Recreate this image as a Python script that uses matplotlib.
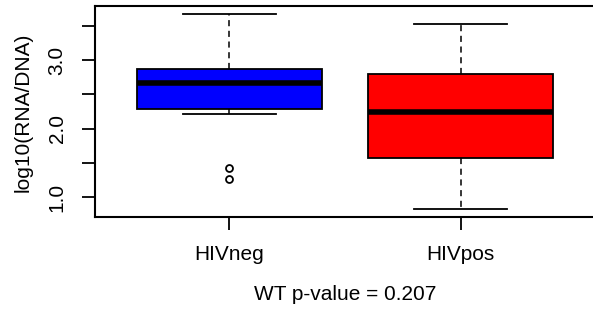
import matplotlib
matplotlib.use("Agg")
import matplotlib.pyplot as plt

plt.rcParams['font.family'] = ['Liberation Sans', 'DejaVu Sans']

groups = ["HIVneg", "HIVpos"]
q1 = [2.29, 1.58]
medians = [2.67, 2.25]
q3 = [2.87, 2.80]
whislo = [2.21, 0.83]
whishi = [3.67, 3.53]
fliers = [[1.42, 1.26], []]
colors = ["#0000FF", "#FF0000"]
xlabel = "WT p-value = 0.207"
ylabel = "log10(RNA/DNA)"

fig = plt.figure(figsize=(5.93, 3.11), dpi=100)
ax = fig.add_axes([95/593, 1-216.7/311, 500/593, (216.7-6)/311])

stats = []
for i, g in enumerate(groups):
    stats.append(dict(label=g, med=medians[i], q1=q1[i], q3=q3[i],
                      whislo=whislo[i], whishi=whishi[i], fliers=fliers[i]))

bp = ax.bxp(stats, positions=[1, 2], widths=0.8, patch_artist=True,
            boxprops=dict(linewidth=1.3, edgecolor='black'),
            medianprops=dict(color='black', linewidth=4, solid_capstyle='butt'),
            whiskerprops=dict(color='black', linewidth=1.1, linestyle=(0, (4, 3))),
            capprops=dict(color='black', linewidth=1.3),
            flierprops=dict(marker='o', markersize=5, markerfacecolor='none',
                            markeredgecolor='black', markeredgewidth=1.3),
            capwidths=0.4)
for patch, c in zip(bp['boxes'], colors):
    patch.set_facecolor(c)

ax.set_xlim(0.42, 2.58)
ax.set_ylim(0.717, 3.789)
ax.set_yticks([1.0, 1.5, 2.0, 2.5, 3.0, 3.5])
ax.set_yticklabels(["1.0", "", "2.0", "", "3.0", ""], rotation=90, va='center')
ax.set_xticks([1, 2])
ax.set_xticklabels(groups)
ax.tick_params(axis='both', length=9.5, width=1.3, labelsize=15, color='black')
ax.tick_params(axis='y', pad=11)
ax.tick_params(axis='x', pad=11)
for s in ax.spines.values():
    s.set_linewidth(1.5)
ax.spines['right'].set_visible(False)

fig.text(345/593, 1-295/311, xlabel, ha='center', va='center', fontsize=15)
fig.text(23/593, 1-112/311, ylabel, ha='center', va='center', rotation=90, fontsize=15)

fig.savefig("out.png", dpi=100)
